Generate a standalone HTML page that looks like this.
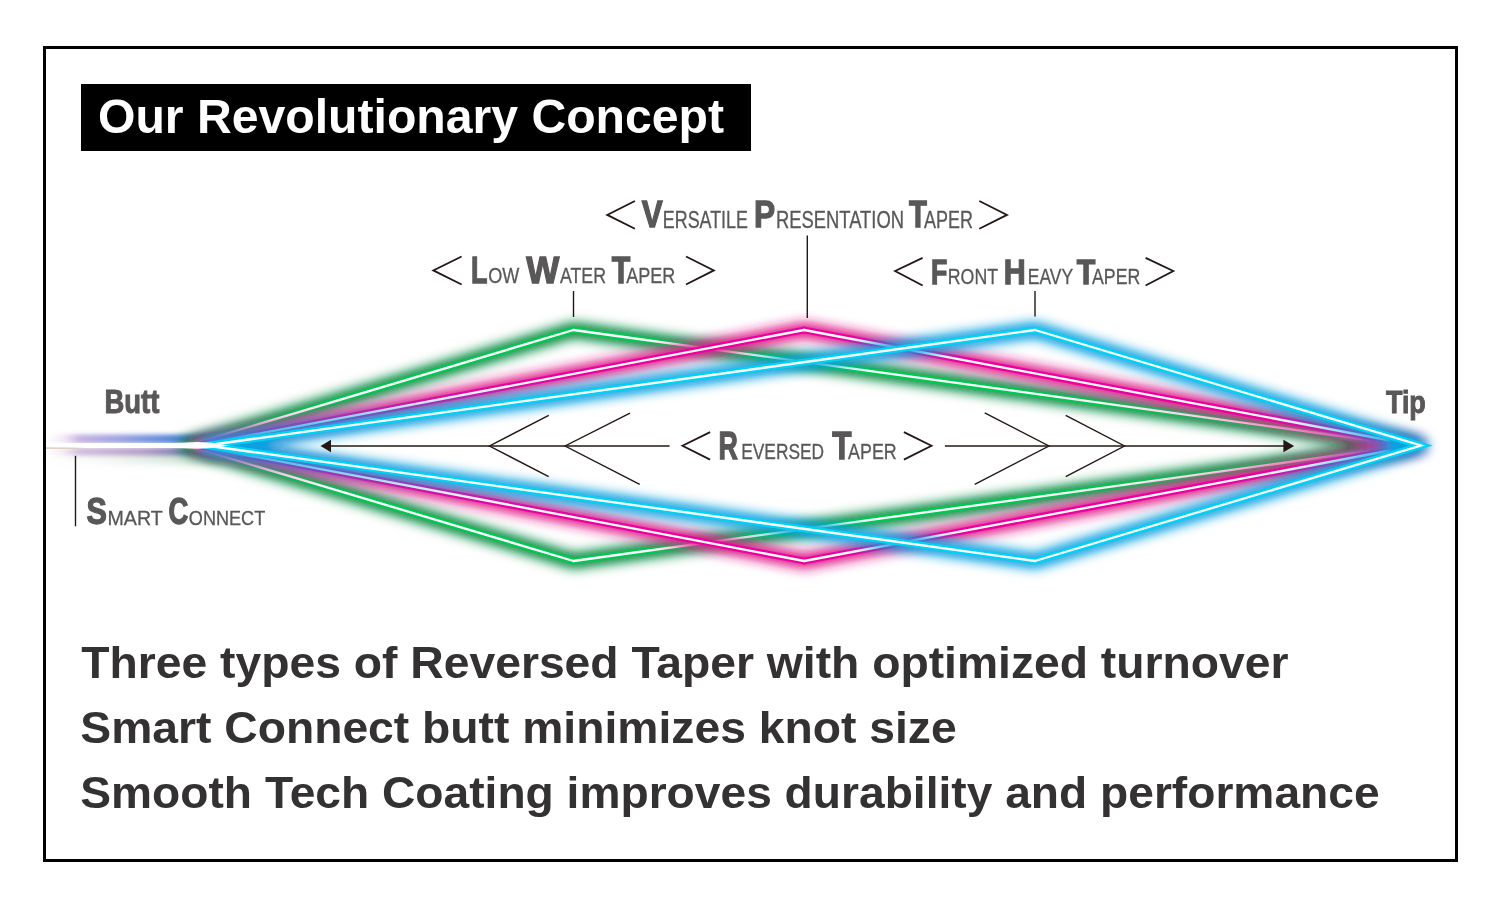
<!DOCTYPE html>
<html><head><meta charset="utf-8"><style>
html,body{margin:0;padding:0;background:#fff;}
svg{display:block;font-family:"Liberation Sans",sans-serif;will-change:transform;}
</style></head><body>
<svg width="1500" height="908" viewBox="0 0 1500 908">
<rect width="1500" height="908" fill="#fff"/>
<defs>
<filter id="fg" x="-20%" y="-50%" width="140%" height="200%"><feGaussianBlur stdDeviation="6.3"/><feComponentTransfer><feFuncA type="linear" slope="1.38"/></feComponentTransfer></filter>
<filter id="fb" x="-20%" y="-200%" width="140%" height="500%"><feGaussianBlur stdDeviation="2.2"/></filter>
<filter id="fb2" x="-20%" y="-200%" width="140%" height="500%"><feGaussianBlur stdDeviation="4"/></filter>
<linearGradient id="bgtop" gradientUnits="userSpaceOnUse" x1="46" x2="215" y1="0" y2="0"><stop offset="0" stop-color="#d0c0d8" stop-opacity="0"/><stop offset="0.1" stop-color="#d0a8d8" stop-opacity="0.25"/><stop offset="0.2" stop-color="#b098d8" stop-opacity="0.75"/><stop offset="0.5" stop-color="#8898e0" stop-opacity="0.95"/><stop offset="0.8" stop-color="#4a80d8" stop-opacity="1"/><stop offset="1" stop-color="#3070c8" stop-opacity="1"/></linearGradient>
<linearGradient id="bgbot" gradientUnits="userSpaceOnUse" x1="46" x2="215" y1="0" y2="0"><stop offset="0" stop-color="#d8b8d8" stop-opacity="0"/><stop offset="0.1" stop-color="#d8b0d8" stop-opacity="0.25"/><stop offset="0.2" stop-color="#c0a0d0" stop-opacity="0.7"/><stop offset="0.6" stop-color="#b090c8" stop-opacity="0.9"/><stop offset="0.85" stop-color="#7070b8" stop-opacity="1"/><stop offset="1" stop-color="#4a60b0" stop-opacity="1"/></linearGradient>
<linearGradient id="bggrn" gradientUnits="userSpaceOnUse" x1="46" x2="215" y1="0" y2="0"><stop offset="0" stop-color="#60a070" stop-opacity="0"/><stop offset="0.3" stop-color="#80b090" stop-opacity="0.1"/><stop offset="0.8" stop-color="#4a9060" stop-opacity="0.35"/><stop offset="1" stop-color="#2a8050" stop-opacity="0.6"/></linearGradient>
<linearGradient id="bbeige" x1="0" x2="1"><stop offset="0" stop-color="#c8b898" stop-opacity="0.9"/><stop offset="0.7" stop-color="#c8b898" stop-opacity="0.6"/><stop offset="1" stop-color="#c8b898" stop-opacity="0"/></linearGradient>
<linearGradient id="fadeg" gradientUnits="userSpaceOnUse" x1="46" x2="200" y1="0" y2="0"><stop offset="0" stop-color="#fff" stop-opacity="0.25"/><stop offset="0.5" stop-color="#fff" stop-opacity="0.6"/><stop offset="1" stop-color="#fff" stop-opacity="1"/></linearGradient>
<mask id="fade" maskUnits="userSpaceOnUse" x="0" y="0" width="1500" height="908"><rect x="0" y="0" width="200" height="908" fill="url(#fadeg)"/><rect x="200" y="0" width="1300" height="908" fill="#fff"/></mask>
<linearGradient id="bcore" gradientUnits="userSpaceOnUse" x1="46" x2="218" y1="0" y2="0"><stop offset="0" stop-color="#fff"/><stop offset="0.9" stop-color="#fff"/><stop offset="1" stop-color="#fff" stop-opacity="0"/></linearGradient>
<clipPath id="clipin"><rect x="46" y="49" width="1409" height="810"/></clipPath>
</defs>
<rect x="44.5" y="47.5" width="1412" height="813" fill="none" stroke="#000" stroke-width="3"/>
<rect x="81" y="84" width="670" height="67" fill="#000"/>
<g clip-path="url(#clipin)">
<rect x="40" y="434.5" width="180" height="9" fill="url(#bgtop)" filter="url(#fb)"/>
<rect x="40" y="447.5" width="180" height="8" fill="url(#bgbot)" filter="url(#fb)"/>
<rect x="40" y="453.5" width="180" height="9" fill="url(#bggrn)" filter="url(#fb2)"/>
<path d="M187,445.5 L573.5,330 L1409,445.5 L573.5,561 Z" fill="none" stroke="#088c42" stroke-width="12" stroke-linejoin="round" filter="url(#fg)"/><path d="M573.5,330 L187,445.5 L573.5,561" fill="none" stroke="#00c853" stroke-width="6.8" stroke-linejoin="round" stroke-linecap="round"/><path d="M573.5,330 L1409,445.5 L573.5,561" fill="none" stroke="#00c853" stroke-width="6.8" stroke-linejoin="round" stroke-miterlimit="30" stroke-linecap="round"/><path d="M573.5,330 L187,445.5 L573.5,561" fill="none" stroke="#ffffff" stroke-width="2.3" stroke-linejoin="round" stroke-linecap="round"/><path d="M573.5,330 L1409,445.5 L573.5,561" fill="none" stroke="#ffffff" stroke-width="2.3" stroke-linejoin="round" stroke-miterlimit="30" stroke-linecap="round"/>
<path d="M197,445.5 L804.2,330 L1417,445.5 L804.2,561 Z" fill="none" stroke="#e0208c" stroke-width="12" stroke-linejoin="round" filter="url(#fg)"/><path d="M804.2,330 L197,445.5 L804.2,561" fill="none" stroke="#ee00a0" stroke-width="6.8" stroke-linejoin="round" stroke-linecap="round"/><path d="M804.2,330 L1417,445.5 L804.2,561" fill="none" stroke="#ee00a0" stroke-width="6.8" stroke-linejoin="round" stroke-miterlimit="30" stroke-linecap="round"/><path d="M804.2,330 L197,445.5 L804.2,561" fill="none" stroke="#ffffff" stroke-width="2.3" stroke-linejoin="round" stroke-linecap="round"/><path d="M804.2,330 L1417,445.5 L804.2,561" fill="none" stroke="#ffffff" stroke-width="2.3" stroke-linejoin="round" stroke-miterlimit="30" stroke-linecap="round"/>
<path d="M206,445.5 L1035,330 L1421,445.5 L1035,561 Z" fill="none" stroke="#10a0e0" stroke-width="12" stroke-linejoin="round" filter="url(#fg)"/><path d="M1035,330 L206,445.5 L1035,561" fill="none" stroke="#00d2f5" stroke-width="6.8" stroke-linejoin="round" stroke-linecap="round"/><path d="M1035,330 L1421,445.5 L1035,561" fill="none" stroke="#00d2f5" stroke-width="6.8" stroke-linejoin="miter" stroke-miterlimit="30" stroke-linecap="round"/><path d="M1035,330 L206,445.5 L1035,561" fill="none" stroke="#ffffff" stroke-width="2.3" stroke-linejoin="round" stroke-linecap="round"/><path d="M1035,330 L1421,445.5 L1035,561" fill="none" stroke="#ffffff" stroke-width="2.3" stroke-linejoin="miter" stroke-miterlimit="30" stroke-linecap="round"/>
<polygon points="46,442.9 175,442.9 198,442.1 212,442.7 229,445.5 212,448.1 198,448.7 175,447.9 46,447.9" fill="#fff"/>
<rect x="46" y="447.5" width="40" height="1.2" fill="url(#bbeige)"/>
</g>
<g stroke="#231815" stroke-width="1.4" fill="none">
<line x1="573.5" y1="291" x2="573.5" y2="317"/>
<line x1="807.3" y1="235.4" x2="807.3" y2="318"/>
<line x1="1035" y1="291" x2="1035" y2="316.6"/>
<line x1="75.5" y1="455.8" x2="75.5" y2="526.3"/>
<line x1="330" y1="446" x2="669.6" y2="446"/>
<line x1="944.9" y1="446" x2="1284" y2="446"/>
<polyline points="548.7,415.3 489.5,446 548.7,476.7" />
<polyline points="630,413.1 565.1,446 639.7,484.3" />
<polyline points="984.7,412.9 1048.9,446 974.7,484.3" />
<polyline points="1065.7,415.3 1124.5,446 1065.7,476.7" />
<polyline points="461.6,256.5 433.3,270.4 461.6,284.5" stroke-width="1.8" stroke-linejoin="miter"/>
<polyline points="686,256.5 713.9,270.4 686,284.5" stroke-width="1.8" stroke-linejoin="miter"/>
<polyline points="634.9,201.0 607.2,214.9 634.9,228.7" stroke-width="1.8" stroke-linejoin="miter"/>
<polyline points="979.3,201.0 1007,214.9 979.3,228.7" stroke-width="1.8" stroke-linejoin="miter"/>
<polyline points="922.6,257.9 895.1,271 922.6,285.5" stroke-width="1.8" stroke-linejoin="miter"/>
<polyline points="1145.6,257.9 1173.3,271 1145.6,285.5" stroke-width="1.8" stroke-linejoin="miter"/>
<polyline points="710.1,432.1 682.5,445.8 710.1,459.6" stroke-width="1.8" stroke-linejoin="miter"/>
<polyline points="903.9,432.1 931.5,445.8 903.9,459.6" stroke-width="1.8" stroke-linejoin="miter"/>
</g>
<polygon points="320.5,446 331,439.8 331,452.2" fill="#231815"/>
<polygon points="1294.2,446 1283.4,439.8 1283.4,452.2" fill="#231815"/>
<text id="title" x="98.00" y="133.30" font-size="48.55" font-weight="700" fill="#ffffff" textLength="626.01" lengthAdjust="spacingAndGlyphs">Our Revolutionary Concept</text>
<text id="lw1" stroke="#595757" stroke-width="1.3" x="471.00" y="282.95" font-size="37.36" font-weight="700" fill="#595757" textLength="16.48" lengthAdjust="spacingAndGlyphs">L</text>
<text id="lw2" stroke="#595757" stroke-width="0.3" x="488.20" y="283.45" font-size="21.66" font-weight="400" fill="#595757" textLength="31.13" lengthAdjust="spacingAndGlyphs">OW</text>
<text id="lw3" stroke="#595757" stroke-width="1.3" x="526.20" y="282.95" font-size="37.36" font-weight="700" fill="#595757" textLength="33.09" lengthAdjust="spacingAndGlyphs">W</text>
<text id="lw4" stroke="#595757" stroke-width="0.3" x="560.00" y="283.45" font-size="21.66" font-weight="400" fill="#595757" textLength="46.02" lengthAdjust="spacingAndGlyphs">ATER</text>
<text id="lw5" stroke="#595757" stroke-width="1.3" x="611.80" y="282.95" font-size="37.36" font-weight="700" fill="#595757" textLength="18.55" lengthAdjust="spacingAndGlyphs">T</text>
<text id="lw6" stroke="#595757" stroke-width="0.3" x="626.20" y="283.45" font-size="21.66" font-weight="400" fill="#595757" textLength="49.11" lengthAdjust="spacingAndGlyphs">APER</text>
<text id="vp1" stroke="#595757" stroke-width="1.3" x="641.70" y="227.15" font-size="37.27" font-weight="700" fill="#595757" textLength="20.96" lengthAdjust="spacingAndGlyphs">V</text>
<text id="vp2" stroke="#595757" stroke-width="0.3" x="662.80" y="227.65" font-size="23.31" font-weight="400" fill="#595757" textLength="85.18" lengthAdjust="spacingAndGlyphs">ERSATILE</text>
<text id="vp3" stroke="#595757" stroke-width="1.3" x="754.10" y="227.15" font-size="37.27" font-weight="700" fill="#595757" textLength="21.12" lengthAdjust="spacingAndGlyphs">P</text>
<text id="vp4" stroke="#595757" stroke-width="0.3" x="776.00" y="227.65" font-size="23.31" font-weight="400" fill="#595757" textLength="127.96" lengthAdjust="spacingAndGlyphs">RESENTATION</text>
<text id="vp5" stroke="#595757" stroke-width="1.3" x="908.90" y="227.15" font-size="37.27" font-weight="700" fill="#595757" textLength="17.89" lengthAdjust="spacingAndGlyphs">T</text>
<text id="vp6" stroke="#595757" stroke-width="0.3" x="924.00" y="227.65" font-size="23.31" font-weight="400" fill="#595757" textLength="48.95" lengthAdjust="spacingAndGlyphs">APER</text>
<text id="fh1" stroke="#595757" stroke-width="1.3" x="931.00" y="283.75" font-size="35.58" font-weight="700" fill="#595757" textLength="16.30" lengthAdjust="spacingAndGlyphs">F</text>
<text id="fh2" stroke="#595757" stroke-width="0.3" x="947.80" y="284.25" font-size="21.92" font-weight="400" fill="#595757" textLength="50.26" lengthAdjust="spacingAndGlyphs">RONT</text>
<text id="fh3" stroke="#595757" stroke-width="1.3" x="1003.80" y="283.75" font-size="35.58" font-weight="700" fill="#595757" textLength="21.97" lengthAdjust="spacingAndGlyphs">H</text>
<text id="fh4" stroke="#595757" stroke-width="0.3" x="1027.80" y="284.25" font-size="21.92" font-weight="400" fill="#595757" textLength="45.31" lengthAdjust="spacingAndGlyphs">EAVY</text>
<text id="fh5" stroke="#595757" stroke-width="1.3" x="1076.80" y="283.75" font-size="35.58" font-weight="700" fill="#595757" textLength="18.60" lengthAdjust="spacingAndGlyphs">T</text>
<text id="fh6" stroke="#595757" stroke-width="0.3" x="1092.00" y="284.25" font-size="21.92" font-weight="400" fill="#595757" textLength="48.26" lengthAdjust="spacingAndGlyphs">APER</text>
<text id="rt1" stroke="#595757" stroke-width="1.3" x="718.50" y="458.55" font-size="38.79" font-weight="700" fill="#595757" textLength="19.35" lengthAdjust="spacingAndGlyphs">R</text>
<text id="rt2" stroke="#595757" stroke-width="0.3" x="741.20" y="459.05" font-size="22.07" font-weight="400" fill="#595757" textLength="82.89" lengthAdjust="spacingAndGlyphs">EVERSED</text>
<text id="rt3" stroke="#595757" stroke-width="1.3" x="832.20" y="458.55" font-size="38.79" font-weight="700" fill="#595757" textLength="19.27" lengthAdjust="spacingAndGlyphs">T</text>
<text id="rt4" stroke="#595757" stroke-width="0.3" x="848.10" y="459.05" font-size="22.07" font-weight="400" fill="#595757" textLength="48.66" lengthAdjust="spacingAndGlyphs">APER</text>
<text id="butt" stroke="#595757" stroke-width="1.0" x="104.50" y="413.30" font-size="32.42" font-weight="700" fill="#595757" textLength="54.88" lengthAdjust="spacingAndGlyphs">Butt</text>
<text id="tip" stroke="#595757" stroke-width="1.0" x="1385.90" y="413.40" font-size="32.11" font-weight="700" fill="#595757" textLength="39.96" lengthAdjust="spacingAndGlyphs">Tip</text>
<text id="sc1" stroke="#595757" stroke-width="1.3" x="86.40" y="524.25" font-size="36.98" font-weight="700" fill="#595757" textLength="20.36" lengthAdjust="spacingAndGlyphs">S</text>
<text id="sc2" stroke="#595757" stroke-width="0.3" x="107.50" y="524.75" font-size="20.94" font-weight="400" fill="#595757" textLength="55.19" lengthAdjust="spacingAndGlyphs">MART</text>
<text id="sc3" stroke="#595757" stroke-width="1.3" x="168.40" y="524.25" font-size="36.98" font-weight="700" fill="#595757" textLength="19.78" lengthAdjust="spacingAndGlyphs">C</text>
<text id="sc4" stroke="#595757" stroke-width="0.3" x="188.80" y="524.75" font-size="20.94" font-weight="400" fill="#595757" textLength="76.42" lengthAdjust="spacingAndGlyphs">ONNECT</text>
<text id="l1" x="81.30" y="678.00" font-size="44.29" font-weight="700" fill="#333132" textLength="1207.20" lengthAdjust="spacingAndGlyphs">Three types of Reversed Taper with optimized turnover</text>
<text id="l2" x="80.30" y="743.00" font-size="45.14" font-weight="700" fill="#333132" textLength="876.31" lengthAdjust="spacingAndGlyphs">Smart Connect butt minimizes knot size</text>
<text id="l3" x="80.30" y="808.00" font-size="45.14" font-weight="700" fill="#333132" textLength="1299.31" lengthAdjust="spacingAndGlyphs">Smooth Tech Coating improves durability and performance</text>
</svg>
</body></html>
